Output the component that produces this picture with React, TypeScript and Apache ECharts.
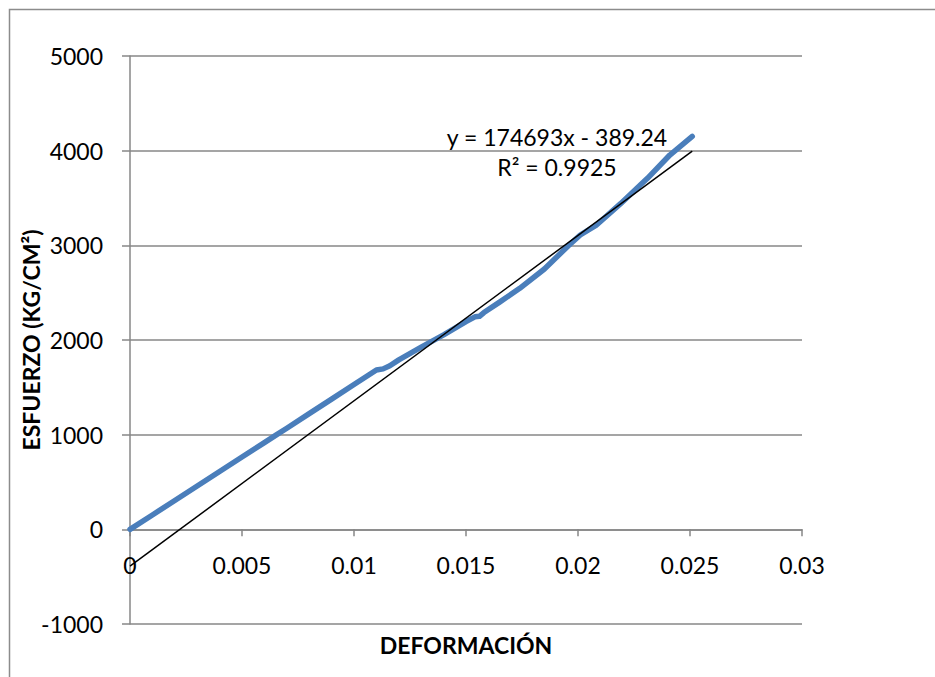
import React, { useEffect, useRef } from "react";
import * as echarts from "echarts";

// Measured strain (deformación) and stress (esfuerzo, kg/cm²)
const strainValues = [
  0, 0.001, 0.002, 0.003, 0.004, 0.005, 0.006, 0.00655, 0.007, 0.008, 0.009,
  0.01, 0.011, 0.0113, 0.0116, 0.012, 0.013, 0.014, 0.015, 0.0154, 0.0156,
  0.0158, 0.0165, 0.0174, 0.0185, 0.01957, 0.0201, 0.0208, 0.0219, 0.0231,
  0.0241, 0.0251,
];
const stressValues = [
  0, 152, 305, 458, 611, 764, 916, 1000, 1068, 1222, 1376, 1530, 1683, 1695,
  1728, 1790, 1925, 2055, 2195, 2245, 2250, 2290, 2400, 2546, 2750, 2996, 3109,
  3210, 3440, 3708, 3954, 4150,
];

// Linear trend line fitted to the stress–strain data
const trendSlope = 174693;
const trendIntercept = -389.24;
const rSquared = 0.9925;

const xTicks = { min: 0, max: 0.03, interval: 0.005 };
const yTicks = { min: -1000, max: 5000, interval: 1000 };

const FONT = "Lato, 'Open Sans', sans-serif";
const GRID_GRAY = "#878787";

const CHART_W = 935;
const CHART_H = 677;
const GRID = { left: 130, right: 133, top: 56, bottom: 53 };

export default function App() {
  const ref = useRef<HTMLDivElement>(null);

  useEffect(() => {
    document.body.style.margin = "0";
    if (!ref.current) return;
    const chart = echarts.init(ref.current, undefined, { renderer: "svg" });

    const points = strainValues.map((x, i) => [x, stressValues[i]]);
    const xEnd = strainValues[strainValues.length - 1];
    const trendPoints = [
      [0, trendIntercept],
      [xEnd, trendSlope * xEnd + trendIntercept],
    ];
    const eqText = `y = ${trendSlope}x - ${Math.abs(trendIntercept)}`;
    const r2Text = `R² = ${rSquared}`;

    // Lift the horizontal axis from the bottom of the grid to the y = 0 line
    const plotH = CHART_H - GRID.top - GRID.bottom;
    const zeroOffset = -plotH * ((0 - yTicks.min) / (yTicks.max - yTicks.min));

    chart.setOption({
      animation: false,
      backgroundColor: "#ffffff",
      grid: {
        ...GRID,
        containLabel: false,
        outerBoundsMode: "none",
      },
      graphic: [
        {
          type: "rect",
          shape: { x: 9.5, y: 9.5, width: 1000, height: 1000 },
          style: { fill: "none", stroke: "#8c8c8c", lineWidth: 1.5 },
          silent: true,
        },
        {
          type: "text",
          x: 557,
          y: 137,
          style: {
            text: eqText,
            font: `23px ${FONT}`,
            fill: "#000",
            align: "center",
            verticalAlign: "middle",
          },
          z: 10,
        },
        {
          type: "text",
          x: 557,
          y: 167,
          style: {
            text: r2Text,
            font: `23px ${FONT}`,
            fill: "#000",
            align: "center",
            verticalAlign: "middle",
          },
          z: 10,
        },
      ],
      xAxis: {
        type: "value",
        position: "bottom",
        offset: zeroOffset,
        min: xTicks.min,
        max: xTicks.max,
        interval: xTicks.interval,
        name: "DEFORMACIÓN",
        nameLocation: "middle",
        nameGap: 104,
        nameMoveOverlap: false,
        nameTextStyle: {
          fontFamily: FONT,
          fontSize: 23,
          fontWeight: "bold",
          color: "#000",
        },
        axisLine: { onZero: false, lineStyle: { color: GRID_GRAY, width: 1.5 } },
        axisTick: { show: true, length: 7, lineStyle: { color: GRID_GRAY, width: 1.5 } },
        axisLabel: {
          margin: 24,
          fontFamily: FONT,
          fontSize: 23,
          color: "#000",
          formatter: (v: number) => String(parseFloat(v.toFixed(4))),
        },
        splitLine: { show: false },
      },
      yAxis: {
        type: "value",
        min: yTicks.min,
        max: yTicks.max,
        interval: yTicks.interval,
        name: "ESFUERZO (KG/CM²)",
        nameLocation: "middle",
        nameGap: 88,
        nameMoveOverlap: false,
        nameTextStyle: {
          fontFamily: FONT,
          fontSize: 23,
          fontWeight: "bold",
          color: "#000",
        },
        axisLine: { show: true, onZero: false, lineStyle: { color: GRID_GRAY, width: 1.5 } },
        axisTick: { show: true, length: 8, lineStyle: { color: GRID_GRAY, width: 1.5 } },
        axisLabel: {
          margin: 27,
          fontFamily: FONT,
          fontSize: 23,
          color: "#000",
          formatter: (v: number) => String(v),
        },
        splitLine: { show: true, lineStyle: { color: GRID_GRAY, width: 1.5 } },
      },
      series: [
        {
          name: "Esfuerzo",
          type: "line",
          data: points,
          showSymbol: false,
          symbol: "none",
          lineStyle: { color: "#4a7ebb", width: 5.5, cap: "round", join: "round" },
          z: 3,
        },
        {
          name: "Lineal",
          type: "line",
          data: trendPoints,
          showSymbol: false,
          symbol: "none",
          lineStyle: { color: "#000000", width: 1.5 },
          z: 4,
        },
      ],
    });

    return () => chart.dispose();
  }, []);

  return <div ref={ref} style={{ width: CHART_W, height: CHART_H }} />;
}
